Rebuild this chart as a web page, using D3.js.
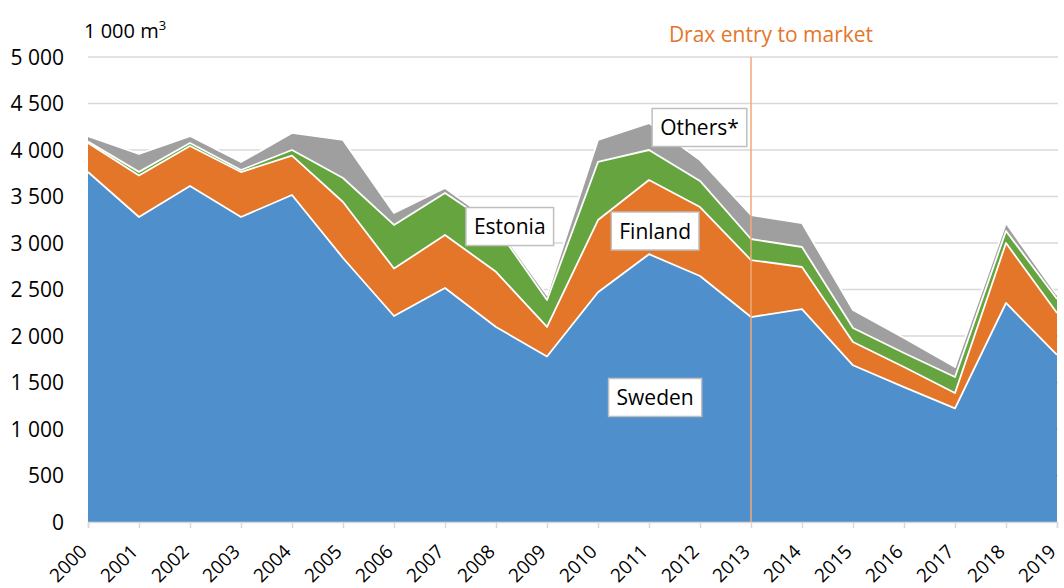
<!DOCTYPE html>
<html>
<head>
<meta charset="utf-8">
<script src="https://cdn.jsdelivr.net/npm/d3@7/dist/d3.min.js"></script>
<style>
  body { margin: 0; background: #fff; }
  text { font-family: "Open Sans", sans-serif; }
</style>
</head>
<body>
<div class="chart"></div>
<script>
// wood imports by origin, 1 000 m3, stacked
var years = [2000, 2001, 2002, 2003, 2004, 2005, 2006, 2007, 2008, 2009,
             2010, 2011, 2012, 2013, 2014, 2015, 2016, 2017, 2018, 2019];
var sweden  = [3763, 3280, 3613, 3280, 3516, 2839, 2215, 2516, 2097, 1780,
               2470, 2880, 2645, 2204, 2290, 1685, 1450, 1222, 2355, 1796];
var finland = [312, 445, 430, 483, 424, 602, 510, 570, 593, 317,
               777, 797, 742, 613, 452, 250, 217, 165, 645, 451];
var estonia = [15, 40, 32, 22, 60, 258, 469, 452, 480, 290,
               624, 323, 280, 226, 215, 151, 150, 172, 129, 151];
var others  = [60, 192, 75, 86, 183, 409, 129, 53, 30, 53,
               237, 290, 225, 258, 258, 194, 161, 108, 86, 43];
var yTicks = [0, 500, 1000, 1500, 2000, 2500, 3000, 3500, 4000, 4500, 5000];
var seriesNames = ["Sweden", "Finland", "Estonia", "Others*"];
var seriesColors = ["#4f8fcc", "#e4762a", "#65a43f", "#9f9f9f"];
var markerYear = 2013;

var width = 1064, height = 588;
var margins = { top: 57, right: 7, bottom: 66, left: 88 };

var svg = d3.select(".chart").append("svg")
    .attr("width", width)
    .attr("height", height);

var x = d3.scaleLinear()
    .domain([years[0], years[years.length - 1]])
    .range([margins.left, width - margins.right]);

var y = d3.scaleLinear()
    .domain([0, 5000])
    .range([height - margins.bottom, margins.top]);

var fmt = d3.formatLocale({ decimal: ",", thousands: " ", grouping: [3], currency: ["", ""] }).format(",");

// gridlines
svg.append("g")
    .selectAll("line")
    .data(yTicks.slice(1))
    .enter().append("line")
    .attr("x1", x.range()[0])
    .attr("x2", x.range()[1] + 1)
    .attr("y1", function (d) { return y(d); })
    .attr("y2", function (d) { return y(d); })
    .attr("stroke", "#d9d9d9")
    .attr("stroke-width", 1.5);

// stack the data
var table = years.map(function (yr, i) {
    return { year: yr, Sweden: sweden[i], Finland: finland[i], Estonia: estonia[i], "Others*": others[i] };
});
var stacked = d3.stack().keys(seriesNames)(table);

var area = d3.area()
    .x(function (d) { return x(d.data.year); })
    .y0(function (d) { return y(d[0]); })
    .y1(function (d) { return y(d[1]); });

var topLine = d3.line()
    .x(function (d) { return x(d.data.year); })
    .y(function (d) { return y(d[1]); });

svg.append("g")
    .selectAll("path")
    .data(stacked)
    .enter().append("path")
    .attr("d", area)
    .attr("fill", function (d, i) { return seriesColors[i]; });

svg.append("g")
    .selectAll("path")
    .data(stacked)
    .enter().append("path")
    .attr("d", topLine)
    .attr("fill", "none")
    .attr("stroke", "#fff")
    .attr("stroke-width", 1.8)
    .attr("stroke-linejoin", "round");

// x axis
var xAxis = svg.append("g")
    .attr("transform", "translate(0," + y(0) + ")")
    .call(d3.axisBottom(x).tickValues(years).tickFormat(d3.format("d")).tickSizeOuter(0).tickSize(6));
xAxis.select(".domain").attr("stroke", "#d9d9d9").attr("stroke-width", 1.5);
xAxis.selectAll(".tick line").attr("stroke", "#d9d9d9").attr("stroke-width", 1.5);
xAxis.selectAll(".tick text")
    .attr("font-size", 19)
    .attr("fill", "#000")
    .attr("text-anchor", "end")
    .attr("x", 0)
    .attr("y", 0)
    .attr("dy", "0.35em")
    .attr("transform", "translate(-5,26) rotate(-45)");

// y axis labels
svg.append("g")
    .selectAll("text")
    .data(yTicks)
    .enter().append("text")
    .attr("x", 64)
    .attr("y", function (d) { return y(d); })
    .attr("dy", "0.36em")
    .attr("text-anchor", "end")
    .attr("font-size", 21)
    .text(function (d) { return fmt(d); });

// unit
var unit = svg.append("text")
    .attr("x", 84)
    .attr("y", 38)
    .attr("font-size", 20);
unit.append("tspan").text("1 000 m");
unit.append("tspan").attr("font-size", 13).attr("dy", -8).text("3");

// Drax marker
svg.append("line")
    .attr("x1", x(markerYear))
    .attr("x2", x(markerYear))
    .attr("y1", y(5000))
    .attr("y2", y(0))
    .attr("stroke", "#f2a878")
    .attr("stroke-width", 1.5);

svg.append("text")
    .attr("x", x(markerYear) + 20)
    .attr("y", 42)
    .attr("text-anchor", "middle")
    .attr("font-size", 21)
    .attr("fill", "#e4762a")
    .text("Drax entry to market");

// series labels (year position, value position of box centre)
var labels = [
    { name: "Sweden", yr: 2011.12, val: 1339 },
    { name: "Finland", yr: 2011.12, val: 3129 },
    { name: "Estonia", yr: 2008.27, val: 3177 },
    { name: "Others*", yr: 2011.99, val: 4242 }
];

labels.forEach(function (l) {
    var g = svg.append("g")
        .attr("transform", "translate(" + x(l.yr) + "," + y(l.val) + ")");
    var t = g.append("text")
        .attr("text-anchor", "middle")
        .attr("dy", "0.36em")
        .attr("font-size", 21)
        .text(l.name);
    var bb = t.node().getBBox();
    g.insert("rect", "text")
        .attr("x", bb.x - 8)
        .attr("y", -19)
        .attr("width", bb.width + 16)
        .attr("height", 38)
        .attr("fill", "#fff")
        .attr("stroke", "#bfbfbf")
        .attr("stroke-width", 1.5);
});
</script>
</body>
</html>
